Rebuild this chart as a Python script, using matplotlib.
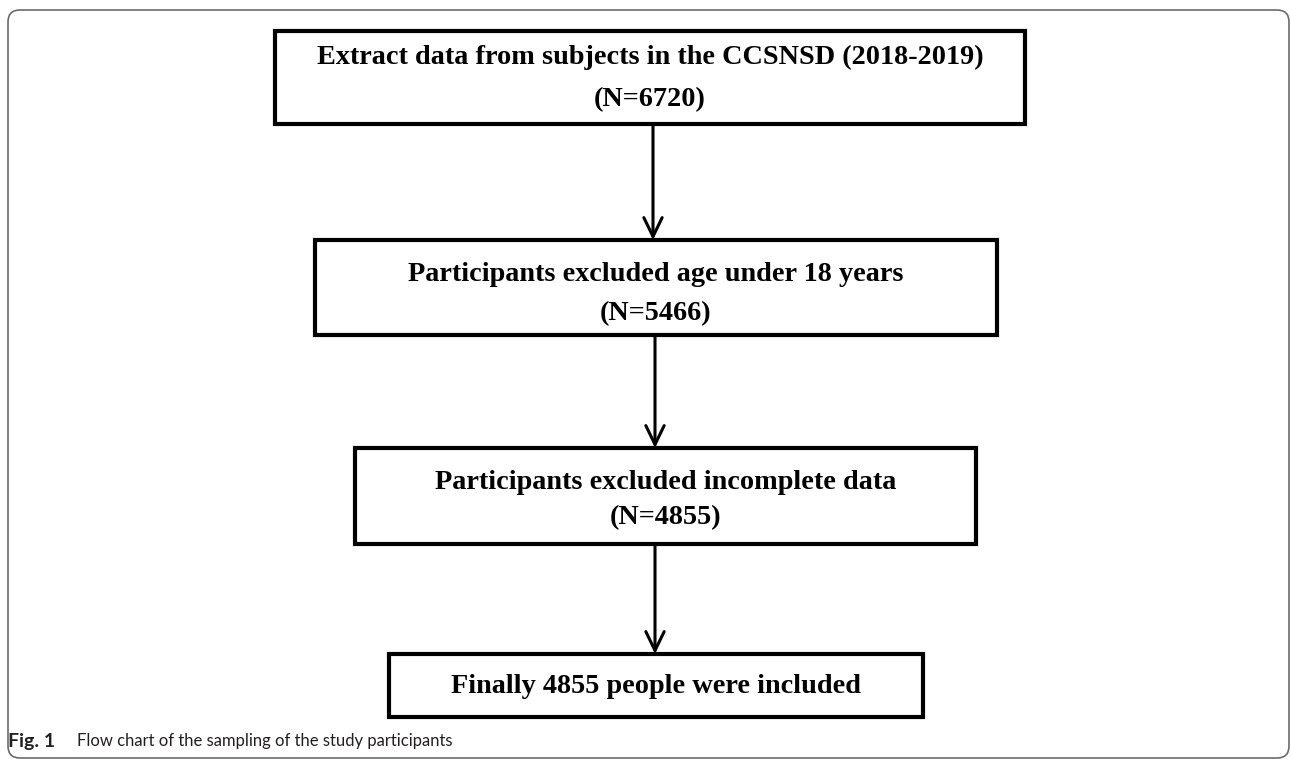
import matplotlib
matplotlib.use('Agg')
import matplotlib.pyplot as plt
from matplotlib.patches import Rectangle, FancyBboxPatch

# flow chart content
step_titles = [
    "Extract data from subjects in the CCSNSD (2018-2019)",
    "Participants excluded age under 18 years",
    "Participants excluded incomplete data",
    "Finally 4855 people were included",
]
step_counts = ["(N=6720)", "(N=5466)", "(N=4855)", None]
caption_label = "Fig. 1"
caption_text = "Flow chart of the sampling of the study participants"

# layout in pixels (x0, y0, x1, y1), y grows downwards
boxes = [(275, 31, 1025, 124), (315, 240, 997, 335), (355, 448, 976, 544), (389, 654, 923, 717)]
line_pos = [(0.28, 0.74), (0.36, 0.78), (0.36, 0.72), None]
arrow_x = [653, 655, 655]

W, H = 1291, 759
fig = plt.figure(figsize=(W / 100, H / 100), dpi=100)
ax = fig.add_axes([0, 0, 1, 1])
ax.set_xlim(0, W)
ax.set_ylim(H, 0)
ax.axis('off')

# outer frame
frame = FancyBboxPatch((8, 10), 1281, 748, boxstyle="round,pad=0,rounding_size=12",
                       fill=False, edgecolor='#6b6b6b', linewidth=1.2)
ax.add_patch(frame)

serif = ['Liberation Serif', 'DejaVu Serif']
fs = 20.3
for i, (x0, y0, x1, y1) in enumerate(boxes):
    ax.add_patch(Rectangle((x0, y0), x1 - x0, y1 - y0, fill=False, edgecolor='black',
                           linewidth=3.0, joinstyle='miter'))
    cx = (x0 + x1) / 2
    if step_counts[i] is None:
        ax.text(cx, (y0 + y1) / 2 + 1, step_titles[i], ha='center', va='center',
                fontsize=fs, fontweight='bold', family=serif)
    else:
        h = y1 - y0
        p1, p2 = line_pos[i]
        ax.text(cx, y0 + h * p1, step_titles[i], ha='center', va='center',
                fontsize=fs, fontweight='bold', family=serif)
        ax.text(cx, y0 + h * p2, step_counts[i], ha='center', va='center',
                fontsize=fs, fontweight='bold', family=serif)

# arrows between boxes
for i, x in enumerate(arrow_x):
    ax.annotate('', xy=(x, boxes[i + 1][1]), xytext=(x, boxes[i][3]),
                arrowprops=dict(arrowstyle='->,head_length=0.68,head_width=0.33',
                                mutation_scale=20, color='black', linewidth=2.2,
                                shrinkA=0, shrinkB=0))

ax.text(8, 741, caption_label, ha='left', va='center', fontsize=14,
        fontweight='bold', family=['Lato', 'DejaVu Sans'], color='#231f20')
ax.text(77, 741, caption_text, ha='left', va='center', fontsize=12,
        family=['Lato', 'DejaVu Sans'], color='#231f20')

fig.savefig('out.png', dpi=100)
